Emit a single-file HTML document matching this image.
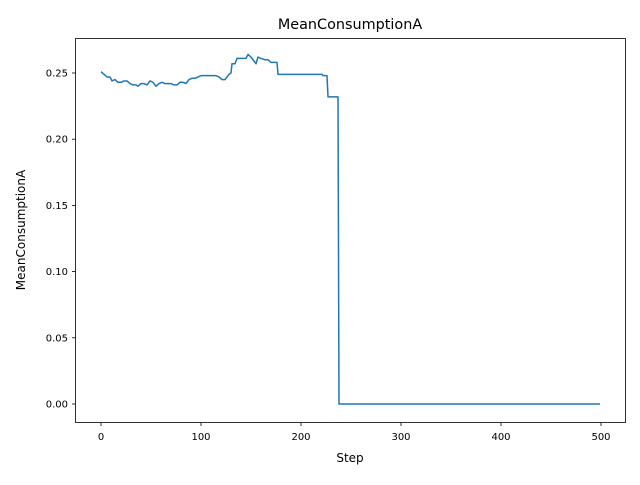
<!DOCTYPE html>
<html><head><meta charset="utf-8"><style>
body{margin:0;background:#fff}
svg text{font-family:"DejaVu Sans","Liberation Sans",sans-serif;fill:#000}
</style></head><body>
<svg id="chart" width="640" height="480" xmlns="http://www.w3.org/2000/svg">
<rect width="640" height="480" fill="#fff"/>
<text x="350" y="29" font-size="14.4" text-anchor="middle">MeanConsumptionA</text>
<text x="350" y="462" font-size="12" text-anchor="middle">Step</text>
<text transform="translate(25,230) rotate(-90)" font-size="12" text-anchor="middle">MeanConsumptionA</text>
<g id="ticks"></g>
<path id="line" fill="none" stroke="#1f77b4" stroke-width="1.5" stroke-linejoin="round"/>
<rect x="75.5" y="38.5" width="550" height="384" fill="none" stroke="#000" stroke-width="0.8"/>
</svg>
<script>
const steps = [0,3,6,9,11,14,17,20,23,26,29,32,35,37,40,43,46,49,52,55,58,61,64,67,70,73,76,79,82,85,88,91,94,97,100,104,108,112,115,118,121,124,126,128,130,131,134,136,140,145,147,150,152,155,157,160,164,167,170,176,177,221,222,226,227,237,238,499];
const values = [0.251,0.249,0.247,0.247,0.244,0.245,0.243,0.243,0.244,0.244,0.242,0.241,0.241,0.240,0.242,0.242,0.241,0.244,0.243,0.240,0.242,0.243,0.242,0.242,0.242,0.241,0.241,0.243,0.243,0.242,0.245,0.246,0.246,0.247,0.248,0.248,0.248,0.248,0.248,0.247,0.245,0.245,0.247,0.249,0.250,0.257,0.257,0.261,0.261,0.261,0.264,0.262,0.260,0.257,0.262,0.261,0.260,0.260,0.258,0.258,0.249,0.249,0.248,0.248,0.232,0.232,0.0,0.0];
const xTicks = [0,100,200,300,400,500];
const yTicks = [0,0.05,0.10,0.15,0.20,0.25];
const yTickLabels = ["0.00","0.05","0.10","0.15","0.20","0.25"];

const X = v => 101 + v * 1.0;
const Y = v => 404 - v * (331 / 0.25);
const NS = "http://www.w3.org/2000/svg";
const g = document.getElementById('ticks');
function mk(tag, attrs){const e=document.createElementNS(NS,tag);for(const k in attrs)e.setAttribute(k,attrs[k]);g.appendChild(e);return e;}
xTicks.forEach(t=>{
  const l = mk('line',{x1:X(t),x2:X(t),y1:422.5,y2:426,stroke:'#000','stroke-width':0.8});
  
  
  const tx = mk('text',{x:X(t),y:440,'font-size':10,'text-anchor':'middle'});
  tx.textContent = t;
  
  
});
yTicks.forEach((t,i)=>{
  const l = mk('line',{x1:72,x2:75.5,y1:Y(t),y2:Y(t),stroke:'#000','stroke-width':0.8});
  
  
  const tx = mk('text',{x:68,y:Y(t)+3.5,'font-size':10,'text-anchor':'end'});
  tx.textContent = yTickLabels[i];
  
  
});
document.getElementById('line').setAttribute('d', steps.map((s,i)=>(i?'L':'M')+X(s)+','+Y(values[i])).join(' '));
</script>
</body></html>
